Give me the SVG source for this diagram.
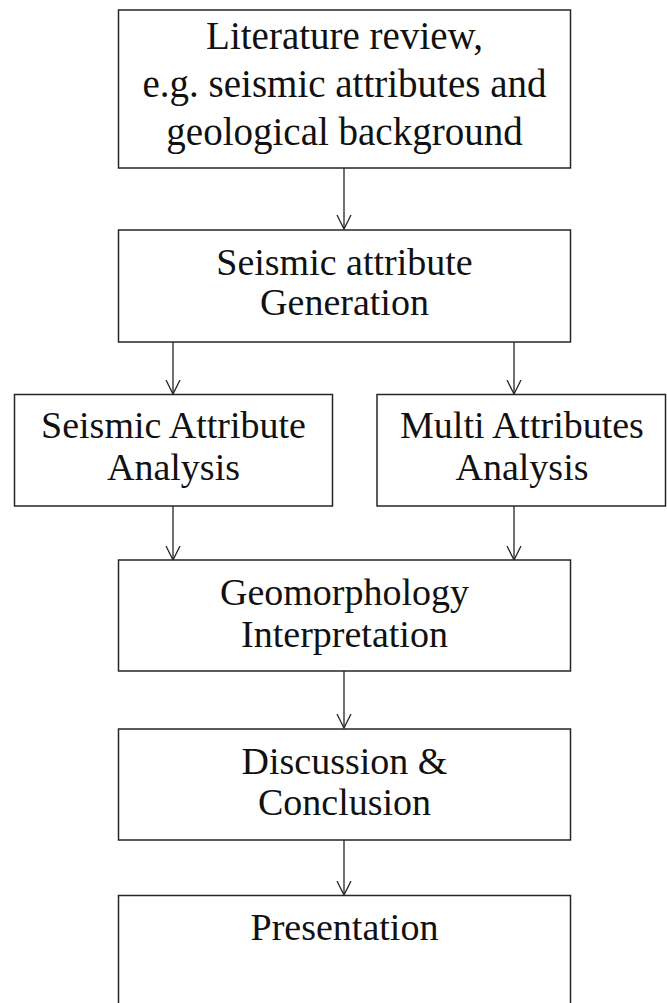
<svg xmlns="http://www.w3.org/2000/svg" width="667" height="1003" viewBox="0 0 667 1003">
<style>
.box{fill:#fff;stroke:#262626;stroke-width:1.5}
.t{font-family:"Liberation Serif","Times New Roman",serif;font-size:38px;fill:#111;text-anchor:middle}
.c{fill:none;stroke:#262626;stroke-width:1.3}
</style>
<defs>
<marker id="ah" markerWidth="16" markerHeight="16" refX="14" refY="8" orient="auto" markerUnits="userSpaceOnUse">
<path d="M0,1 L14,8 L0,15" fill="none" stroke="#262626" stroke-width="1.3"/>
</marker>
</defs>
<rect width="667" height="1003" fill="#fff"/>
<g id="connectors">
<line class="c" x1="344" y1="168" x2="344" y2="229" marker-end="url(#ah)"/>
<line class="c" x1="173" y1="342" x2="173" y2="394" marker-end="url(#ah)"/>
<line class="c" x1="514" y1="342" x2="514" y2="394" marker-end="url(#ah)"/>
<line class="c" x1="173" y1="506" x2="173" y2="560" marker-end="url(#ah)"/>
<line class="c" x1="514" y1="506" x2="514" y2="560" marker-end="url(#ah)"/>
<line class="c" x1="344" y1="671" x2="344" y2="728" marker-end="url(#ah)"/>
<line class="c" x1="344" y1="840" x2="344" y2="895" marker-end="url(#ah)"/>
</g>
<g id="n1">
<rect class="box" x="118.5" y="10" width="452" height="158"/>
<text class="t" x="344.5" y="49" style="font-size:39px">Literature review,</text>
<text class="t" x="344.5" y="97" style="font-size:39px">e.g. seismic attributes and</text>
<text class="t" x="344.5" y="145" style="font-size:39px">geological background</text>
</g>
<g id="n2">
<rect class="box" x="118.5" y="230" width="452" height="112"/>
<text class="t" x="344.5" y="275">Seismic attribute</text>
<text class="t" x="344.5" y="315">Generation</text>
</g>
<g id="n3">
<rect class="box" x="14.5" y="394.5" width="318" height="111.5"/>
<text class="t" x="173.5" y="438">Seismic Attribute</text>
<text class="t" x="173.5" y="480">Analysis</text>
</g>
<g id="n4">
<rect class="box" x="377" y="394.5" width="288.5" height="111.5"/>
<text class="t" x="522" y="438">Multi Attributes</text>
<text class="t" x="522" y="480">Analysis</text>
</g>
<g id="n5">
<rect class="box" x="118.5" y="560" width="452" height="111"/>
<text class="t" x="344.5" y="605">Geomorphology</text>
<text class="t" x="344.5" y="647">Interpretation</text>
</g>
<g id="n6">
<rect class="box" x="118.5" y="729" width="452" height="111"/>
<text class="t" x="344.5" y="774">Discussion &amp;</text>
<text class="t" x="344.5" y="815">Conclusion</text>
</g>
<g id="n7">
<rect class="box" x="118.5" y="895.5" width="452" height="120"/>
<text class="t" x="344.5" y="940">Presentation</text>
</g>
</svg>
